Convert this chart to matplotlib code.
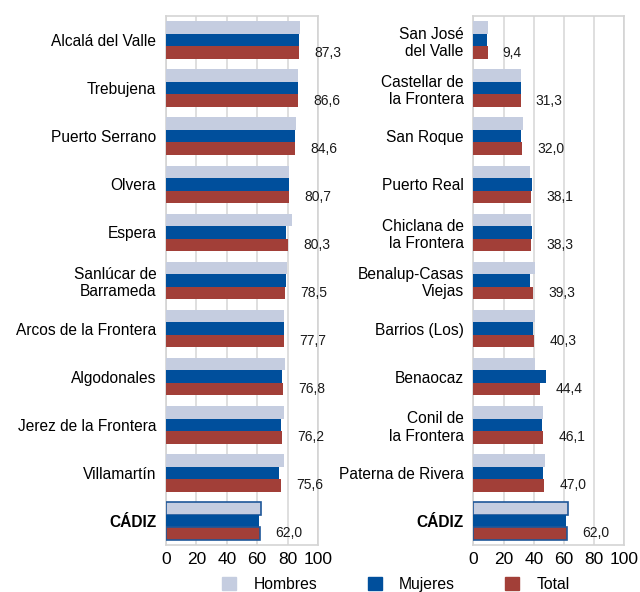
import matplotlib.pyplot as plt
from matplotlib.patches import Patch
import numpy as np

plt.rcParams['font.family'] = ['Liberation Sans', 'DejaVu Sans']

# -------------------------------------------------
# Data (percent)
# -------------------------------------------------
left_names = ["Alcalá del Valle", "Trebujena", "Puerto Serrano", "Olvera", "Espera",
              "Sanlúcar de\nBarrameda", "Arcos de la Frontera", "Algodonales",
              "Jerez de la Frontera", "Villamartín", "CÁDIZ"]
left_hombres = [87.9, 87.1, 85.3, 81.1, 82.7, 79.4, 77.9, 78.4, 77.9, 77.9, 62.7]
left_mujeres = [87.5, 86.6, 84.8, 81.1, 78.7, 78.7, 77.7, 76.0, 75.4, 74.1, 61.5]
left_total = [87.3, 86.6, 84.6, 80.7, 80.3, 78.5, 77.7, 76.8, 76.2, 75.6, 62.0]

right_names = ["San José\ndel Valle", "Castellar de\nla Frontera", "San Roque", "Puerto Real",
               "Chiclana de\nla Frontera", "Benalup-Casas\nViejas", "Barrios (Los)", "Benaocaz",
               "Conil de\nla Frontera", "Paterna de Rivera", "CÁDIZ"]
right_hombres = [9.6, 31.6, 33.0, 37.8, 38.2, 41.1, 40.6, 40.6, 46.4, 47.7, 62.7]
right_mujeres = [9.3, 31.4, 31.4, 38.9, 38.9, 37.8, 39.8, 48.3, 45.7, 46.4, 61.5]
right_total = [9.4, 31.3, 32.0, 38.1, 38.3, 39.3, 40.3, 44.4, 46.1, 47.0, 62.0]

c_h = "#c5cde0"
c_m = "#004f9c"
c_t = "#a23f38"
edge_cadiz = "#1f5799"

fig = plt.figure(figsize=(6.4, 5.92), dpi=100)


def draw_panel(ax, names, hombres, mujeres, total):
    y = np.arange(len(names))
    h = 0.26
    edges = ["none"] * (len(names) - 1) + [edge_cadiz]
    ax.barh(y - h, hombres, height=h, color=c_h, edgecolor=edges, linewidth=1.2, zorder=3)
    ax.barh(y, mujeres, height=h, color=c_m, zorder=3)
    ax.barh(y + h, total, height=h, color=c_t, edgecolor=edges, linewidth=1.2, zorder=3)
    for yi, v in zip(y, total):
        ax.annotate(f"{v:.1f}".replace(".", ","), (v, yi + h),
                    xytext=(11, 0), textcoords="offset points",
                    ha="left", va="center", fontsize=10, color="#1a1a1a")
    ax.set_xlim(0, 100)
    ax.set_ylim(len(names) - 0.5, -0.5)
    ax.set_xticks([0, 20, 40, 60, 80, 100])
    ax.set_yticks(y)
    ax.set_yticklabels(names, fontsize=11.2, linespacing=1.2)
    ax.get_yticklabels()[-1].set_fontweight("bold")
    ax.tick_params(axis="y", length=0, pad=7)
    ax.tick_params(axis="x", length=0, labelsize=12.5, pad=5)
    ax.grid(axis="x", color="#d9d9d9", linewidth=1.2, zorder=0)
    for s in ax.spines.values():
        s.set_color("#d4d4d4")
        s.set_linewidth(1.2)


ax1 = fig.add_axes([0.2594, 0.0794, 0.2375, 0.8936])
ax2 = fig.add_axes([0.7396, 0.0794, 0.2360, 0.8936])
draw_panel(ax1, left_names, left_hombres, left_mujeres, left_total)
draw_panel(ax2, right_names, right_hombres, right_mujeres, right_total)

handles = [Patch(color=c_h, label="Hombres"),
           Patch(color=c_m, label="Mujeres"),
           Patch(color=c_t, label="Total")]
fig.legend(handles=handles, loc="center", bbox_to_anchor=(0.619, 0.012),
           ncol=3, frameon=False, fontsize=11.3, handlelength=0.9, handleheight=0.9,
           columnspacing=3.2, handletextpad=1.1, borderpad=0)

fig.savefig("out.png", dpi=100)
